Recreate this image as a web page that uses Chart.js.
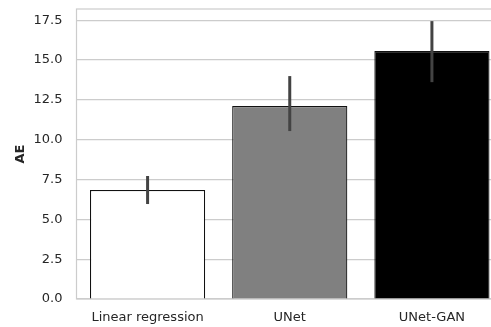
<!DOCTYPE html>
<html>
<head>
<meta charset="utf-8">
<script src="https://cdn.jsdelivr.net/npm/chart.js@4.4.0/dist/chart.umd.min.js"></script>
<style>
  html, body { margin: 0; padding: 0; background: #fff; overflow: hidden; }
  #wrap { width: 510px; height: 327px; }
</style>
</head>
<body>
<div id="wrap"><canvas id="grafico" width="510" height="327"></canvas></div>
<script>
// dados
const modelos = ['Linear regression', 'UNet', 'UNet-GAN'];
const valoresAE = [6.84, 12.11, 15.56];
const erroMin = [5.96, 10.54, 13.61];
const erroMax = [7.72, 13.99, 17.44];
const coresBarras = ['#ffffff', '#808080', '#000000'];
const ticksY = [0, 2.5, 5, 7.5, 10, 12.5, 15, 17.5];

// barras de erro + moldura do eixo
const pluginErro = {
    id: 'barrasErro',
    afterDatasetsDraw(chart) {
        const ctx = chart.ctx;
        const y = chart.scales.y;
        const meta = chart.getDatasetMeta(0);
        ctx.save();
        ctx.strokeStyle = '#434343';
        ctx.lineWidth = 3;
        ctx.lineCap = 'butt';
        meta.data.forEach((bar, i) => {
            ctx.beginPath();
            ctx.moveTo(bar.x, y.getPixelForValue(erroMin[i]));
            ctx.lineTo(bar.x, y.getPixelForValue(erroMax[i]));
            ctx.stroke();
        });
        ctx.restore();
    },
    beforeDatasetsDraw(chart) {
        const a = chart.chartArea;
        const ctx = chart.ctx;
        ctx.save();
        ctx.strokeStyle = '#cccccc';
        ctx.lineWidth = 1.2;
        ctx.strokeRect(a.left, a.top, a.right - a.left, a.bottom - a.top);
        ctx.restore();
    }
};

new Chart(document.getElementById('grafico').getContext('2d'), {
    type: 'bar',
    data: {
        labels: modelos,
        datasets: [{
            data: valoresAE,
            backgroundColor: coresBarras,
            borderColor: '#111111',
            borderWidth: 1.2,
            categoryPercentage: 0.81,
            barPercentage: 1
        }]
    },
    options: {
        responsive: false,
        animation: false,
        devicePixelRatio: 1,
        layout: { padding: { top: 9, right: 7, left: 0, bottom: 2 } },
        plugins: {
            legend: { display: false },
            tooltip: { enabled: false }
        },
        scales: {
            x: {
                grid: { display: false, drawTicks: false },
                border: { display: false },
                afterFit: (axis) => {
                    axis.height = 26;
                    axis.paddingLeft = 0;
                    axis.paddingRight = 0;
                },
                ticks: {
                    color: '#262626',
                    padding: 11,
                    font: { family: 'DejaVu Sans', size: 13 }
                }
            },
            y: {
                min: 0,
                max: 18.2,
                afterBuildTicks: (axis) => {
                    axis.ticks = ticksY.map(v => ({ value: v }));
                },
                afterFit: (axis) => {
                    axis.width = 76.5;
                    axis.paddingTop = 0;
                    axis.paddingBottom = 0;
                },
                grid: { color: '#cccccc', lineWidth: 1.2, drawTicks: false },
                border: { display: false },
                ticks: {
                    color: '#262626',
                    padding: 14,
                    font: { family: 'DejaVu Sans', size: 13 },
                    callback: v => Number(v).toFixed(1)
                },
                title: {
                    display: true,
                    text: 'AE',
                    color: '#262626',
                    padding: { top: 13, bottom: 6 },
                    font: { family: 'DejaVu Sans', size: 13, weight: 'bold' }
                }
            }
        }
    },
    plugins: [pluginErro]
});
</script>
</body>
</html>
